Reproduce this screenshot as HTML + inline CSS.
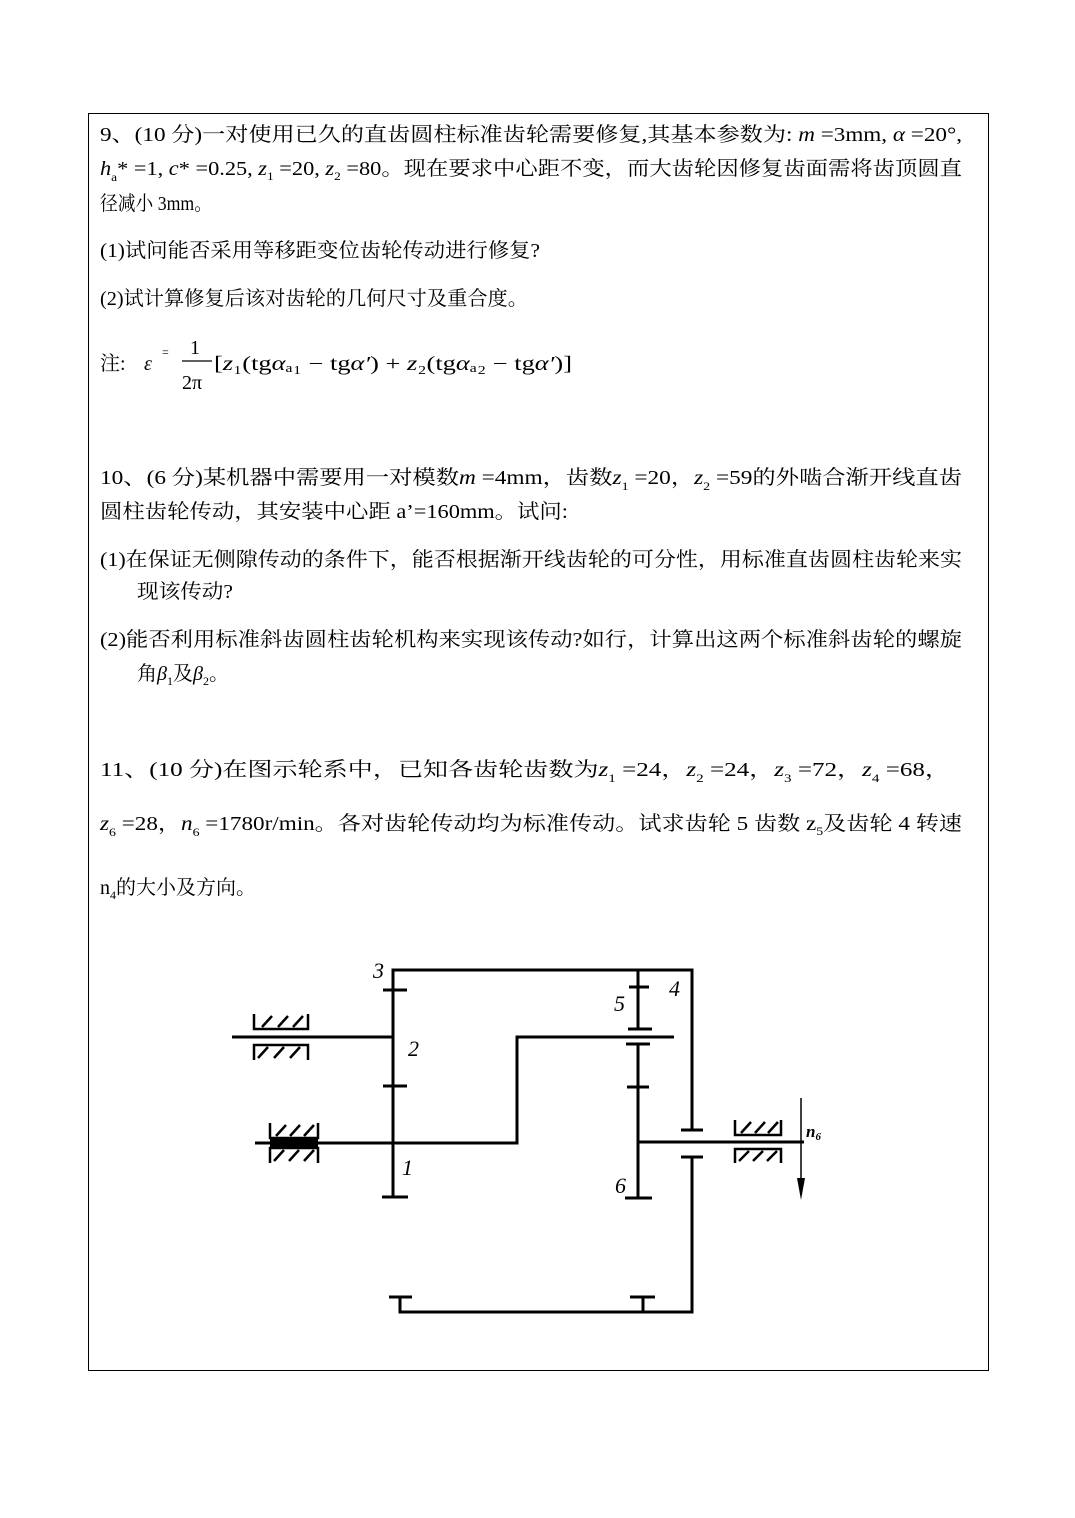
<!DOCTYPE html>
<html><head><meta charset="utf-8"><style>
html,body{margin:0;padding:0;background:#fff;}
svg{display:block;}
text{font-family:"Liberation Serif","Noto Serif CJK SC",serif;font-size:20px;fill:#000;}
.i{font-style:italic;}
.s{font-size:12px;}
</style></head><body>
<svg width="1075" height="1518" viewBox="0 0 1075 1518" xmlns="http://www.w3.org/2000/svg">
<rect x="88.5" y="113.5" width="900" height="1257" fill="none" stroke="#000" stroke-width="1"/>

<text x="100" y="141" textLength="862" lengthAdjust="spacingAndGlyphs">9、(10 分)一对使用已久的直齿圆柱标准齿轮需要修复,其基本参数为: <tspan class="i">m</tspan> =3mm, <tspan class="i">α</tspan> =20°,</text>
<text x="100" y="175" textLength="862" lengthAdjust="spacingAndGlyphs"><tspan class="i">h</tspan><tspan class="s" dy="6">a</tspan><tspan dy="-6">* =1, </tspan><tspan class="i">c</tspan>* =0.25, <tspan class="i">z</tspan><tspan class="s" dy="5">1</tspan><tspan dy="-5"> =20, </tspan><tspan class="i">z</tspan><tspan class="s" dy="5">2</tspan><tspan dy="-5"> =80。现在要求中心距不变，而大齿轮因修复齿面需将齿顶圆直</tspan></text>
<text x="100" y="210" textLength="112" lengthAdjust="spacingAndGlyphs">径减小 3mm。</text>
<text x="100" y="257" textLength="440" lengthAdjust="spacingAndGlyphs">(1)试问能否采用等移距变位齿轮传动进行修复?</text>
<text x="100" y="305" textLength="428" lengthAdjust="spacingAndGlyphs">(2)试计算修复后该对齿轮的几何尺寸及重合度。</text>
<text x="100" y="370">注:</text>
<text x="144" y="370" class="i">ε</text>
<text x="162" y="356" class="s">=</text>
<text x="190" y="354">1</text>
<line x1="182" y1="361" x2="212" y2="361" stroke="#000" stroke-width="1.2"/>
<text x="182" y="389">2π</text>
<text x="214" y="370" textLength="358" lengthAdjust="spacingAndGlyphs">[<tspan class="i">z</tspan>₁(tg<tspan class="i">α</tspan>ₐ₁ − tg<tspan class="i">α′</tspan>) + <tspan class="i">z</tspan>₂(tg<tspan class="i">α</tspan>ₐ₂ − tg<tspan class="i">α′</tspan>)]</text>

<text x="100" y="484" textLength="862" lengthAdjust="spacingAndGlyphs">10、(6 分)某机器中需要用一对模数<tspan class="i">m</tspan> =4mm，齿数<tspan class="i">z</tspan><tspan class="s" dy="6">1</tspan><tspan dy="-6"> =20，</tspan><tspan class="i">z</tspan><tspan class="s" dy="6">2</tspan><tspan dy="-6"> =59的外啮合渐开线直齿</tspan></text>
<text x="100" y="518" textLength="468" lengthAdjust="spacingAndGlyphs">圆柱齿轮传动，其安装中心距 a’=160mm。试问:</text>
<text x="100" y="566" textLength="862" lengthAdjust="spacingAndGlyphs">(1)在保证无侧隙传动的条件下，能否根据渐开线齿轮的可分性，用标准直齿圆柱齿轮来实</text>
<text x="137" y="598" textLength="96" lengthAdjust="spacingAndGlyphs">现该传动?</text>
<text x="100" y="646" textLength="862" lengthAdjust="spacingAndGlyphs">(2)能否利用标准斜齿圆柱齿轮机构来实现该传动?如行，计算出这两个标准斜齿轮的螺旋</text>
<text x="137" y="680">角<tspan class="i">β</tspan><tspan class="s" dy="5">1</tspan><tspan dy="-5">及</tspan><tspan class="i">β</tspan><tspan class="s" dy="5">2</tspan><tspan dy="-5">。</tspan></text>

<text x="100" y="776" textLength="850" lengthAdjust="spacingAndGlyphs">11、(10 分)在图示轮系中，已知各齿轮齿数为<tspan class="i">z</tspan><tspan class="s" dy="6">1</tspan><tspan dy="-6"> =24，</tspan><tspan class="i">z</tspan><tspan class="s" dy="6">2</tspan><tspan dy="-6"> =24，</tspan><tspan class="i">z</tspan><tspan class="s" dy="6">3</tspan><tspan dy="-6"> =72，</tspan><tspan class="i">z</tspan><tspan class="s" dy="6">4</tspan><tspan dy="-6"> =68，</tspan></text>
<text x="100" y="830" textLength="862" lengthAdjust="spacingAndGlyphs"><tspan class="i">z</tspan><tspan class="s" dy="6">6</tspan><tspan dy="-6"> =28，</tspan><tspan class="i">n</tspan><tspan class="s" dy="6">6</tspan><tspan dy="-6"> =1780r/min。各对齿轮传动均为标准传动。试求齿轮 5 齿数 z</tspan><tspan class="s" dy="5">5</tspan><tspan dy="-5">及齿轮 4 转速</tspan></text>
<text x="100" y="894">n<tspan class="s" dy="5">4</tspan><tspan dy="-5">的大小及方向。</tspan></text>

<g stroke="#000" stroke-width="3" fill="none">
<polyline points="393,1197 393,970 692,970 692,1130"/>
<line x1="383" y1="990" x2="407" y2="990"/>
<line x1="383" y1="1086" x2="407" y2="1086"/>
<line x1="382" y1="1197" x2="408" y2="1197"/>
<line x1="681" y1="1130" x2="703" y2="1130"/>
<line x1="232" y1="1037" x2="393" y2="1037"/>
<polyline points="255,1143 517,1143 517,1037 674,1037"/>
<line x1="638" y1="970" x2="638" y2="1029"/>
<line x1="629" y1="987" x2="649" y2="987"/>
<line x1="628" y1="1029" x2="652" y2="1029"/>
<line x1="638" y1="1044" x2="638" y2="1198"/>
<line x1="626" y1="1044" x2="650" y2="1044"/>
<line x1="627" y1="1087" x2="649" y2="1087"/>
<line x1="625" y1="1198" x2="652" y2="1198"/>
<line x1="638" y1="1142" x2="804" y2="1142"/>
<polyline points="692,1157 692,1312 400,1312 400,1297"/>
<line x1="681" y1="1157" x2="703" y2="1157"/>
<line x1="389" y1="1297" x2="412" y2="1297"/>
<line x1="643" y1="1297" x2="643" y2="1312"/>
<line x1="630" y1="1297" x2="655" y2="1297"/>
</g>
<g stroke="#000" stroke-width="2.5" fill="none">
<polyline points="254,1014 254,1029 308,1029 308,1014"/>
<line x1="262" y1="1027" x2="272" y2="1016"/><line x1="278" y1="1027" x2="288" y2="1016"/><line x1="293" y1="1027" x2="303" y2="1016"/>
<polyline points="254,1060 254,1045 308,1045 308,1060"/>
<line x1="258" y1="1058" x2="268" y2="1047"/><line x1="274" y1="1058" x2="284" y2="1047"/><line x1="290" y1="1058" x2="300" y2="1047"/>
<polyline points="270,1123 270,1138 318,1138 318,1123"/>
<line x1="276" y1="1136" x2="286" y2="1125"/><line x1="290" y1="1136" x2="300" y2="1125"/><line x1="304" y1="1136" x2="314" y2="1125"/>
<polyline points="270,1163 270,1148 318,1148 318,1163"/>
<line x1="274" y1="1161" x2="284" y2="1150"/><line x1="289" y1="1161" x2="299" y2="1150"/><line x1="304" y1="1161" x2="314" y2="1150"/>
<rect x="270" y="1139" width="48" height="8" fill="#000" stroke="none"/>
<polyline points="735,1120 735,1135 781,1135 781,1120"/>
<line x1="741" y1="1133" x2="751" y2="1122"/><line x1="755" y1="1133" x2="765" y2="1122"/><line x1="768" y1="1133" x2="778" y2="1122"/>
<polyline points="735,1163 735,1149 781,1149 781,1163"/>
<line x1="739" y1="1161" x2="749" y2="1151"/><line x1="753" y1="1161" x2="763" y2="1151"/><line x1="767" y1="1161" x2="777" y2="1151"/>
</g>
<line x1="801" y1="1098" x2="801" y2="1188" stroke="#000" stroke-width="1.5"/>
<polygon points="797,1178 805,1178 801,1200" fill="#000"/>
<text x="373" y="978" class="i" style="font-size:22px">3</text>
<text x="669" y="996" class="i" style="font-size:22px">4</text>
<text x="614" y="1011" class="i" style="font-size:22px">5</text>
<text x="408" y="1056" class="i" style="font-size:22px">2</text>
<text x="402" y="1175" class="i" style="font-size:22px">1</text>
<text x="615" y="1193" class="i" style="font-size:22px">6</text>
<text x="806" y="1137" class="i" style="font-size:17px;font-weight:bold">n<tspan style="font-size:11px" dy="3">6</tspan></text>
</svg>
</body></html>
